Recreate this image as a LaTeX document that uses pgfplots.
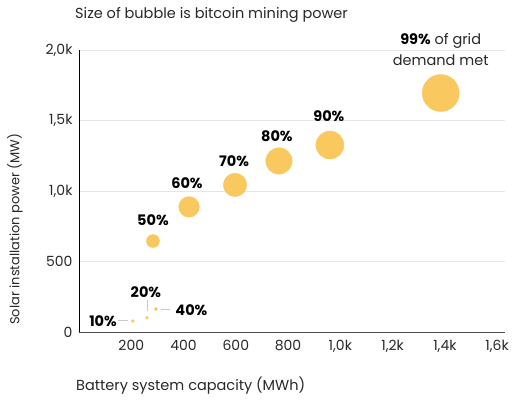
\documentclass[border=0pt]{standalone}
\usepackage{pgfplots}
\pgfplotsset{compat=1.18}
\usepackage{fontspec}
\setmainfont{Poppins}
\definecolor{bub}{RGB}{249,200,95}
\definecolor{gridc}{RGB}{230,230,230}
\definecolor{lead}{RGB}{200,200,200}
\definecolor{txt}{RGB}{40,40,40}
\begin{document}
\begin{tikzpicture}[x=1pt,y=1pt]
\path[use as bounding box] (-79pt,-68pt) rectangle (438pt,332pt);
\begin{axis}[
  at={(0pt,0pt)}, anchor=south west,
  scale only axis, width=426pt, height=282pt,
  xmin=0, xmax=1630, ymin=0, ymax=2000,
  axis x line=bottom, axis y line=left,
  axis line style={-, line width=0.9pt},
  x axis line style={draw=black!70},
  y axis line style={draw=black},
  xtick={200,400,600,800,1000,1200,1400,1600},
  xticklabels={200,400,600,800,{1,0k},{1,2k},{1,4k},{1,6k}},
  ytick={0,500,1000,1500,2000},
  yticklabels={0,500,{1,0k},{1,5k},{2,0k}},
  major tick length=0pt,
  tick style={draw=none},
  ymajorgrids, grid style={gridc, line width=0.8pt},
  ticklabel style={font=\fontsize{14}{15}\selectfont, text=txt},
  xticklabel style={yshift=-5pt},
  yticklabel style={xshift=-3pt},
  clip=false,
]
\addplot[scatter, only marks, mark=*,
  scatter/use mapped color={draw=bub, fill=bub},
  visualization depends on={\thisrow{r} \as \rr},
  scatter/@pre marker code/.append style={/tikz/mark size=\rr pt},
] table[x=x, y=y] {
x y r
206 78 1.5
260 100 1.5
294 163 1.7
283 645 6.5
421 887 10.3
597 1043 11.7
765 1213 13.2
960 1326 14
1384 1695 18.5
};
% leader lines
\draw[lead, line width=0.8pt] (axis cs:150,80) -- (axis cs:187,80);
\draw[lead, line width=0.8pt] (axis cs:260,225) -- (axis cs:260,150);
\draw[lead, line width=0.8pt] (axis cs:312,163) -- (axis cs:350,163);
% labels
\tikzset{pl/.style={font=\fontsize{14.5}{16}\selectfont\bfseries, text=black}}
\node[pl] at (axis cs:92,78) {10\%};
\node[pl] at (axis cs:256,280) {20\%};
\node[pl] at (axis cs:430,156) {40\%};
\node[pl] at (axis cs:283,792) {50\%};
\node[pl] at (axis cs:413,1057) {60\%};
\node[pl] at (axis cs:593,1213) {70\%};
\node[pl] at (axis cs:757,1390) {80\%};
\node[pl] at (axis cs:956,1532) {90\%};
\node[font=\fontsize{14.5}{16}\selectfont, text=txt] at (axis cs:1384,2065) {\textbf{\textcolor{black}{99\%}} of grid};
\node[font=\fontsize{14.5}{16}\selectfont, text=txt] at (axis cs:1384,1929) {demand met};
\node[anchor=west, inner sep=0pt, font=\fontsize{14.5}{16}\selectfont, text=txt] at (rel axis cs:-0.0094,1.125) {Size of bubble is bitcoin mining power};
\node[anchor=west, inner sep=0pt, font=\fontsize{14.5}{16}\selectfont, text=txt] at (rel axis cs:-0.0070,-0.19) {Battery system capacity (MWh)};
\node[rotate=90, inner sep=0pt, font=\fontsize{13}{16}\selectfont, text=txt] at (rel axis cs:-0.150,0.365) {Solar installation power (MW)};
\end{axis}
\end{tikzpicture}
\end{document}
